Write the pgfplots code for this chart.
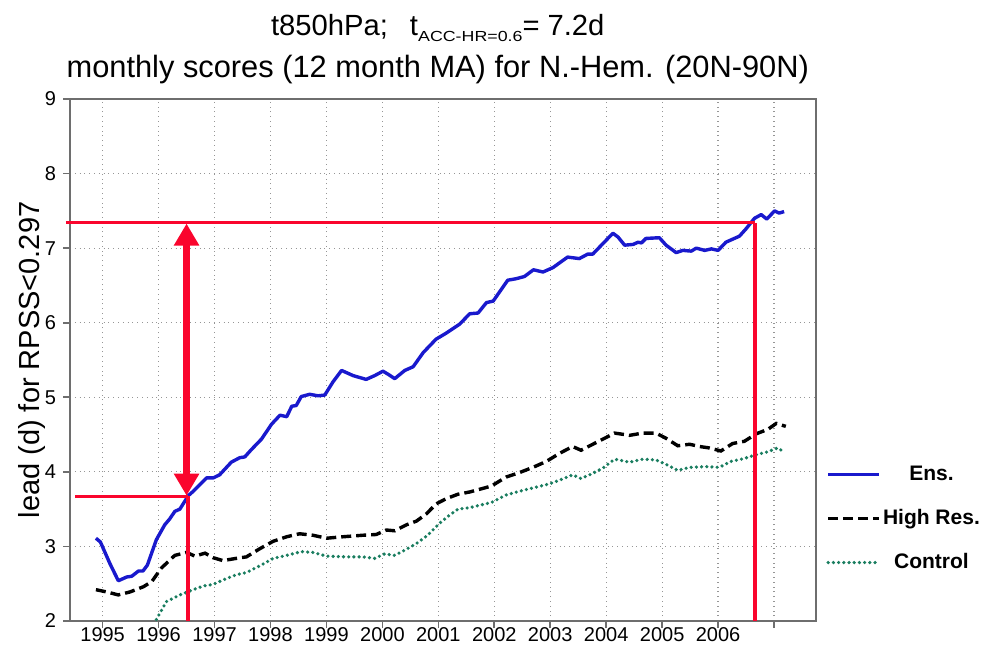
\documentclass[border=0pt]{standalone}
\usepackage{fontspec}
\setmainfont{Liberation Sans}
\usepackage{graphicx}
\usepackage{pgfplots}
\pgfplotsset{compat=1.18}
\usetikzlibrary{arrows.meta}
\definecolor{ensblue}{RGB}{25,25,205}
\definecolor{ctrlgreen}{RGB}{25,125,95}
\definecolor{annred}{RGB}{250,5,45}
\definecolor{axgray}{RGB}{110,110,110}
\definecolor{gridgray}{RGB}{150,150,150}

\pgfplotstableread{
x y
1994.88 3.11
1994.96 3.06
1995.13 2.77
1995.28 2.54
1995.43 2.59
1995.52 2.60
1995.64 2.67
1995.72 2.67
1995.80 2.75
1995.96 3.09
1996.11 3.29
1996.20 3.37
1996.29 3.47
1996.38 3.50
1996.53 3.68
1996.62 3.74
1996.86 3.92
1996.98 3.92
1997.09 3.96
1997.30 4.13
1997.45 4.19
1997.54 4.20
1997.66 4.30
1997.84 4.44
1998.02 4.64
1998.17 4.76
1998.29 4.74
1998.38 4.88
1998.46 4.89
1998.55 5.01
1998.70 5.04
1998.85 5.02
1998.97 5.03
1999.12 5.21
1999.27 5.36
1999.48 5.29
1999.71 5.24
1999.86 5.29
2000.01 5.35
2000.10 5.31
2000.22 5.25
2000.40 5.36
2000.55 5.41
2000.73 5.60
2000.96 5.78
2001.14 5.86
2001.38 5.98
2001.56 6.12
2001.71 6.13
2001.86 6.27
2001.98 6.29
2002.24 6.57
2002.39 6.59
2002.54 6.62
2002.70 6.71
2002.87 6.68
2003.05 6.74
2003.31 6.88
2003.52 6.86
2003.67 6.92
2003.76 6.92
2003.94 7.06
2004.12 7.20
2004.21 7.15
2004.33 7.04
2004.48 7.05
2004.57 7.08
2004.63 7.07
2004.71 7.13
2004.95 7.14
2005.07 7.04
2005.25 6.94
2005.37 6.97
2005.52 6.96
2005.61 7.00
2005.76 6.97
2005.88 6.99
2006.00 6.97
2006.14 7.08
2006.26 7.12
2006.38 7.16
2006.50 7.26
2006.65 7.40
2006.77 7.45
2006.87 7.39
2007.01 7.50
2007.09 7.47
2007.18 7.49
}\ens

\pgfplotstableread{
x y
1994.88 2.42
1995.07 2.39
1995.28 2.35
1995.49 2.39
1995.73 2.46
1995.88 2.53
1996.05 2.71
1996.29 2.88
1996.50 2.92
1996.65 2.87
1996.83 2.91
1996.97 2.85
1997.15 2.81
1997.39 2.84
1997.57 2.86
1997.81 2.97
1998.05 3.07
1998.29 3.13
1998.52 3.17
1998.76 3.15
1999.00 3.11
1999.30 3.13
1999.65 3.15
1999.89 3.16
2000.07 3.22
2000.22 3.21
2000.43 3.29
2000.61 3.34
2000.79 3.44
2000.96 3.57
2001.14 3.64
2001.35 3.70
2001.56 3.73
2001.95 3.81
2002.21 3.93
2002.45 3.99
2002.72 4.07
2002.93 4.14
2003.17 4.25
2003.40 4.34
2003.55 4.29
2003.76 4.37
2003.97 4.45
2004.15 4.52
2004.42 4.49
2004.65 4.52
2004.89 4.52
2005.07 4.45
2005.28 4.35
2005.49 4.37
2005.67 4.34
2005.85 4.32
2006.05 4.28
2006.26 4.38
2006.47 4.41
2006.68 4.51
2006.89 4.57
2007.04 4.65
2007.21 4.61
}\hires

\pgfplotstableread{
x y
1995.96 2.02
1996.14 2.26
1996.38 2.35
1996.62 2.42
1996.80 2.47
1996.97 2.49
1997.15 2.55
1997.39 2.62
1997.57 2.65
1997.81 2.74
1998.05 2.84
1998.29 2.88
1998.55 2.93
1998.76 2.92
1999.00 2.87
1999.36 2.86
1999.65 2.86
1999.86 2.84
2000.04 2.90
2000.22 2.88
2000.40 2.95
2000.61 3.04
2000.81 3.15
2001.02 3.31
2001.20 3.42
2001.35 3.50
2001.56 3.52
2001.95 3.59
2002.21 3.69
2002.45 3.74
2002.72 3.79
2002.99 3.84
2003.17 3.89
2003.40 3.96
2003.55 3.91
2003.76 3.98
2003.94 4.05
2004.15 4.17
2004.42 4.13
2004.65 4.17
2004.89 4.16
2005.07 4.10
2005.28 4.02
2005.49 4.06
2005.79 4.07
2006.02 4.06
2006.23 4.14
2006.47 4.18
2006.68 4.23
2006.89 4.27
2007.06 4.32
2007.18 4.27
}\control

\begin{document}
\begin{tikzpicture}
\path[use as bounding box] (-35pt,-13.5pt) rectangle (459pt,310.5pt);
\begin{axis}[
  at={(0pt,0pt)}, anchor=south west,
  scale only axis, width=373pt, height=261pt,
  xmin=1994.4167, xmax=2007.75, ymin=2, ymax=9,
  xtick={1995,1996,...,2007},
  xticklabels={1995,1996,1997,1998,1999,2000,2001,2002,2003,2004,2005,2006,{}},
  ytick={2,3,...,9},
  grid=major,
  major grid style={gridgray, dotted, line width=0.6pt},
  axis line style={axgray, line width=0.8pt},
  tick style={axgray, line width=0.8pt},
  tick align=outside, major tick length=3.5pt,
  xtick pos=bottom, ytick pos=left,
  ticklabel style={font=\fontsize{10}{12}\selectfont},
  xticklabel style={yshift=1.5pt, inner sep=1pt},
  /pgf/number format/assume math mode=true,
  clip=false,
  ylabel={lead (d) for RPSS<0.297},
  ylabel style={font=\fontsize{14.5}{16}\selectfont, at={(axis description cs:-0.051,0.5)}, anchor=center},
  legend style={at={(axis description cs:1.0134,0.302)}, anchor=north west, draw=none, fill=none,
    font=\bfseries\fontsize{10.5}{12}\selectfont, inner sep=0pt, row sep=11pt,
    nodes={inner sep=1pt}},
  legend cell align=center,
  legend image code/.code={\draw[#1] (0pt,0pt) -- (25.5pt,0pt);},
]
\addplot[ensblue, line width=1.7pt, line join=round] table {\ens};
\addlegendentry{Ens.}
\addplot[black, line width=1.7pt, dash pattern=on 5pt off 2.5pt] table {\hires};
\addlegendentry{High Res.}
\addplot[ctrlgreen, line width=1.8pt, line cap=round, dash pattern=on 0pt off 2.6pt] table {\control};
\addlegendentry{Control}

\draw[annred, line width=1.7pt] (axis cs:1994.345,7.34) -- (axis cs:2006.66,7.34);
\draw[annred, line width=2pt] (axis cs:2006.66,7.34) -- (axis cs:2006.66,2);
\draw[annred, line width=1.7pt] (axis cs:1994.51,3.67) -- (axis cs:1996.53,3.67);
\draw[annred, line width=2pt] (axis cs:1996.53,3.67) -- (axis cs:1996.53,2);
\draw[annred, line width=3.5pt, {Triangle[length=11pt,width=12pt]}-{Triangle[length=11pt,width=12pt]}] (axis cs:1996.50,7.33) -- (axis cs:1996.50,3.68);

\node[anchor=base, font=\fontsize{14.6}{17}\selectfont, inner sep=0pt] at (axis description cs:0.493,1.1226)
  {t850hPa;\hspace{11pt}t\raisebox{-3.2pt}{\fontsize{7.3}{8}\selectfont\scalebox{1.22}[1]{ACC-HR=0.6}}=\hspace{4pt}7.2d};
\node[anchor=base, font=\fontsize{15.4}{18}\selectfont, inner sep=0pt] at (axis description cs:0.493,1.0421)
  {monthly scores (12 month MA) for N.-Hem. (20N-90N)};
\end{axis}
\end{tikzpicture}
\end{document}
